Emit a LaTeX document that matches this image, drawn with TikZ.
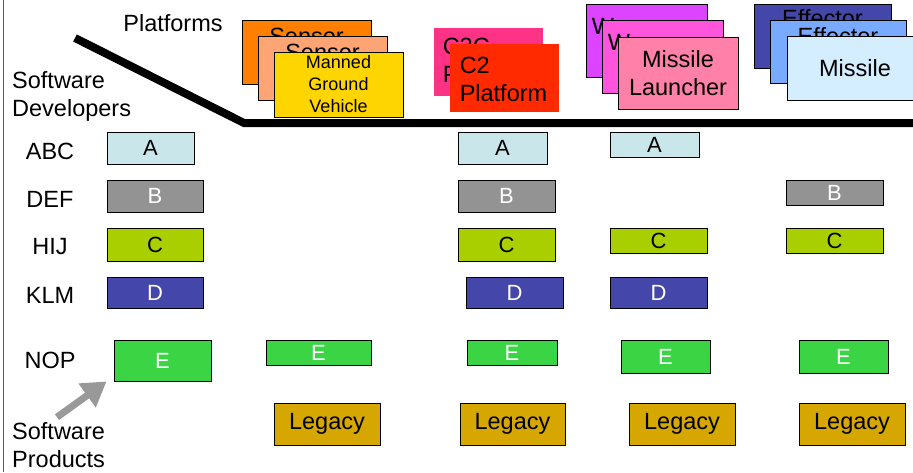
\documentclass[tikz,border=0pt]{standalone}
\usepackage{fontspec}
\setmainfont{Liberation Sans}
\usetikzlibrary{positioning}
\usetikzlibrary{arrows.meta}

\definecolor{cabc}{HTML}{C9E7EB}
\definecolor{cdef}{HTML}{939393}
\definecolor{chij}{HTML}{AACF00}
\definecolor{cklm}{HTML}{4446AA}
\definecolor{cnop}{HTML}{3AD444}
\definecolor{clegacy}{HTML}{D6A700}
\definecolor{csensA}{HTML}{FF7F00}
\definecolor{csensB}{HTML}{FFA474}
\definecolor{cmgv}{HTML}{FFD500}
\definecolor{cctwoA}{HTML}{FF3386}
\definecolor{cctwoB}{HTML}{FF2A00}
\definecolor{cweapA}{HTML}{DD44FF}
\definecolor{cweapB}{HTML}{FF55DD}
\definecolor{cweapC}{HTML}{FF80A8}
\definecolor{ceffA}{HTML}{4446AA}
\definecolor{ceffB}{HTML}{78AAFF}
\definecolor{ceffC}{HTML}{D5EEFF}
\definecolor{carrow}{HTML}{999999}

\newcommand{\bigfont}{\fontsize{23.5}{28}\selectfont}
\newcommand{\boxfont}{\fontsize{22}{26}\selectfont}
\newcommand{\midfont}{\fontsize{18}{22}\selectfont}

\begin{document}
\begin{tikzpicture}[x=1pt,y=-1pt,
            wh/.style 2 args = {minimum width=#1,minimum height=#2},
            box/.style = {draw,line width=0.9pt,inner sep=0pt,font=\boxfont},
            abcbox/.style = {box,fill=cabc},
            defbox/.style = {box,fill=cdef,text=white},
            hijbox/.style = {box,fill=chij},
            klmbox/.style = {box,fill=cklm,text=white},
            nopbox/.style = {box,fill=cnop,text=white},
            legbox/.style = {box,fill=clegacy,font=\bigfont,wh={106}{42}},
            card/.style = {draw,line width=0.9pt,inner sep=0pt},
            plain/.style = {inner sep=0pt,font=\bigfont}]
            \useasboundingbox (0,0) rectangle (913,472);
            \draw[black!65,line width=1pt] (3,0) -- (3,472);
            % headings
            \node[plain] (platforms) at (173,23) {Platforms};
            \node[plain,align=left,anchor=west] (developers) at (12,96) {Software\\Developers};
            \node[plain,align=left,anchor=west] (products) at (12,445) {Software\\Products};
            \draw[line width=8pt] (75,38) -- (244,123) -- (920,123);
            % sensor stack
            \node[card,fill=csensA,wh={129}{64}] (sens1) at (306.5,52) {};
            \node[plain,below=8pt of sens1.north] {Sensor};
            \node[card,fill=csensB,wh={129}{64}] (sens2) at (322.5,68) {};
            \node[plain,below=8pt of sens2.north] {Sensor};
            \node[card,fill=cmgv,wh={129}{65},font=\midfont,align=center] (mgv) at (338.5,84.5) {Manned\\Ground\\Vehicle};
            % c2 stack
            \node[card,draw=none,fill=cctwoA,wh={109}{68}] (ctwo1) at (488.5,62) {};
            \node[plain,align=left,below right=10pt and 9pt of ctwo1.north west] {C2C\\Platform};
            \node[card,draw=none,fill=cctwoB,wh={109}{68}] (ctwo2) at (504.5,78) {};
            \node[plain,align=left,below right=13pt and 10pt of ctwo2.north west] {C2\\Platform};
            % weapon stack
            \node[card,fill=cweapA,wh={121}{73}] (weap1) at (646.5,40.5) {};
            \node[plain,below right=15pt and 6pt of weap1.north west] {Weapon};
            \node[card,fill=cweapB,wh={121}{73}] (weap2) at (662.5,56.5) {};
            \node[plain,below right=15pt and 6pt of weap2.north west] {Weapon};
            \node[card,fill=cweapC,wh={120}{72},font=\bigfont,align=center] (launcher) at (678,73) {Missile\\Launcher};
            % effector stack
            \node[card,fill=ceffA,wh={137}{64}] (eff1) at (822.5,36) {};
            \node[plain,below=6pt of eff1.north] {Effector};
            \node[card,fill=ceffB,wh={136}{63}] (eff2) at (838,51.5) {};
            \node[plain,below=8pt of eff2.north] {Effector};
            \node[card,fill=ceffC,wh={136}{64},font=\bigfont] (missile) at (855,68) {Missile};
            % developers
            \node[plain] (abc) at (50,151) {ABC};
            \node[plain] (def) at (50,199) {DEF};
            \node[plain] (hij) at (50,247) {HIJ};
            \node[plain] (klm) at (50,295) {KLM};
            \node[plain] (nop) at (50,360) {NOP};
            % products
            \node[abcbox,wh={87}{32}] (a1) at (150.5,148) {A};
            \node[abcbox,wh={89}{32}] (a3) at (502.5,148) {A};
            \node[abcbox,wh={89}{25}] (a4) at (654.5,144.5) {A};
            \node[defbox,wh={96}{32}] (b1) at (155,196) {B};
            \node[defbox,wh={97}{32}] (b3) at (506.5,196) {B};
            \node[defbox,wh={97}{25}] (b5) at (834.5,192.5) {B};
            \node[hijbox,wh={96}{33}] (c1) at (155,244.5) {C};
            \node[hijbox,wh={97}{33}] (c3) at (506.5,244.5) {C};
            \node[hijbox,wh={97}{25}] (c4) at (658.5,240.5) {C};
            \node[hijbox,wh={97}{25}] (c5) at (834.5,240.5) {C};
            \node[klmbox,wh={96}{31}] (d1) at (155,292.5) {D};
            \node[klmbox,wh={97}{31}] (d3) at (514.5,292.5) {D};
            \node[klmbox,wh={97}{31}] (d4) at (658.5,292.5) {D};
            \node[nopbox,wh={97}{41}] (e1) at (162.5,360.5) {E};
            \node[nopbox,wh={105}{25}] (e2) at (318.5,352.5) {E};
            \node[nopbox,wh={90}{25}] (e3) at (512,352.5) {E};
            \node[nopbox,wh={89}{33}] (e4) at (665.5,356.5) {E};
            \node[nopbox,wh={89}{33}] (e5) at (843.5,356.5) {E};
            \node[legbox] (leg2) at (327,424) {Legacy};
            \node[legbox,wh={105}{42}] (leg3) at (512.5,424) {Legacy};
            \node[legbox] (leg4) at (682,424) {Legacy};
            \node[legbox] (leg5) at (852,424) {Legacy};
            \draw[-{Triangle[length=24pt,width=28pt]},line width=7pt,carrow]
                ([xshift=45pt,yshift=5pt]products.north west) -- ([xshift=-7pt]e1.south west);
\end{tikzpicture}
\end{document}
